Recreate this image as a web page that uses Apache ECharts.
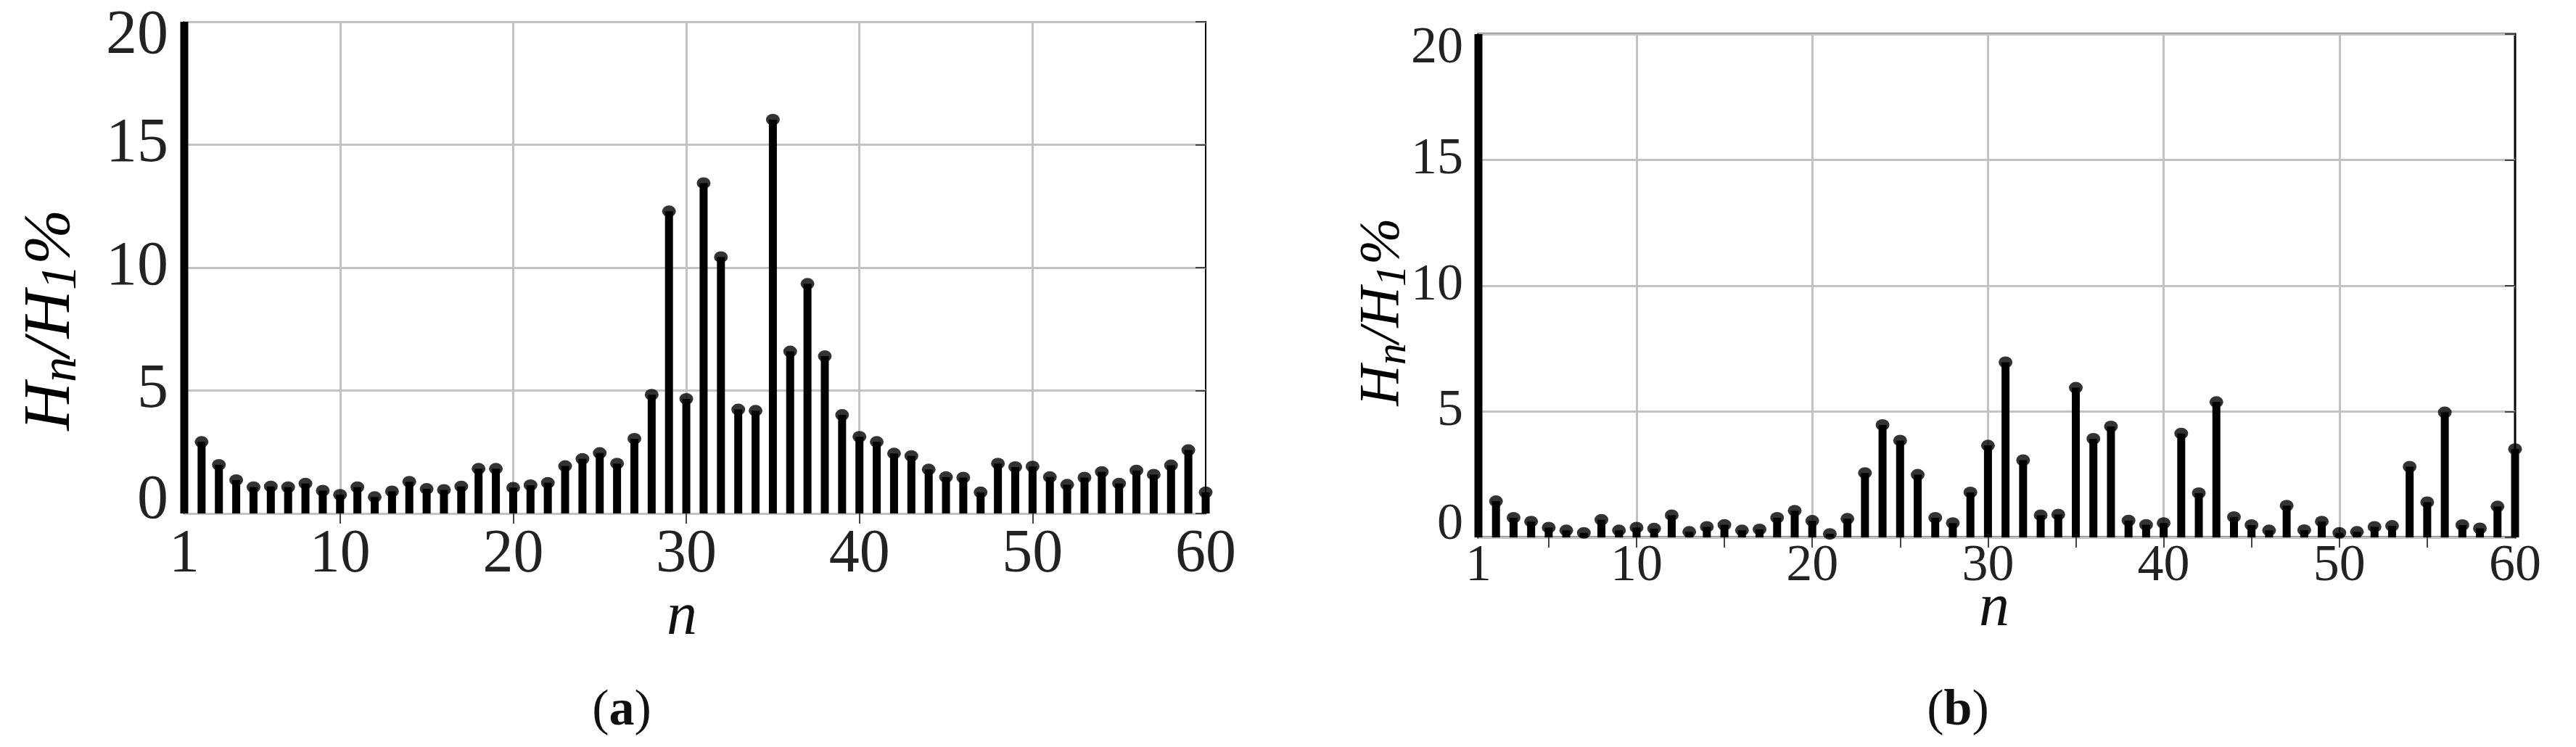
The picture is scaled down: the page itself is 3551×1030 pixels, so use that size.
<!DOCTYPE html>
<html>
<head>
<meta charset="utf-8">
<script src="https://cdn.jsdelivr.net/npm/echarts@6/dist/echarts.min.js"></script>
<style>
html,body{margin:0;padding:0;background:#fff;}
#chart{width:3551px;height:1030px;}
</style>
</head>
<body>
<div id="chart"></div>
<script>
// Harmonic order n
var harmonicOrders = [1,2,3,4,5,6,7,8,9,10,11,12,13,14,15,16,17,18,19,20,
  21,22,23,24,25,26,27,28,29,30,31,32,33,34,35,36,37,38,39,40,
  41,42,43,44,45,46,47,48,49,50,51,52,53,54,55,56,57,58,59,60];

// (a) Hn/H1 %  (n = 1 is the fundamental, 100 %)
var spectrumA = [100,2.91,1.98,1.36,1.07,1.10,1.07,1.22,0.93,0.76,
  1.07,0.67,0.90,1.29,1.00,0.96,1.10,1.82,1.82,1.05,
  1.15,1.25,1.93,2.22,2.46,2.03,3.04,4.83,12.29,4.66,
  13.44,10.43,4.23,4.18,16.02,6.59,9.34,6.40,4.01,3.12,
  2.91,2.44,2.34,1.79,1.48,1.46,0.86,2.03,1.89,1.91,
  1.48,1.17,1.46,1.69,1.22,1.75,1.58,1.96,2.58,0.86];

// (b) Hn/H1 %
var spectrumB = [100,1.44,0.78,0.63,0.39,0.28,0.18,0.70,0.28,0.39,
  0.35,0.88,0.22,0.42,0.50,0.28,0.32,0.78,1.06,0.66,
  0.14,0.74,2.56,4.47,3.85,2.49,0.78,0.57,1.79,3.65,
  6.96,3.07,0.88,0.91,5.95,3.92,4.41,0.67,0.50,0.57,
  4.13,1.76,5.38,0.81,0.49,0.28,1.26,0.29,0.63,0.18,
  0.22,0.42,0.46,2.81,1.40,4.97,0.49,0.36,1.23,3.51];

var xLabelValues = [1,10,20,30,40,50,60];
var xGridValues = [10,20,30,40,50];
var xTopTicksA = [10,20,30,40,50];
var xTicksB5 = [5,15,25,35,45,55];
var xTopTicksB = [5,10,15,20,25,30,35,40,45,50,55];
var yMin = 0, yMax = 20, yStep = 5;

var SERIF = 'Liberation Serif';

function pairs(vals, cap) {
  return harmonicOrders.map(function (n, i) {
    return [n, cap ? Math.min(vals[i], yMax) : vals[i]];
  });
}

function yFormatter(v) {
  if (v === yMax) return '{hi|' + v + '}';
  if (v === yMin) return '{lo|' + v + '}';
  return '{n|' + v + '}';
}
function yRich(size) {
  return {
    n: {fontFamily: SERIF, fontSize: size, color: '#222'},
    hi: {fontFamily: SERIF, fontSize: size, color: '#222', padding: [40, 0, 0, 0]},
    lo: {fontFamily: SERIF, fontSize: size, color: '#222', padding: [0, 0, 34, 0]}
  };
}

var gridLine = {show: true, lineStyle: {color: '#c2c2c2', width: 3}};
var tickStyle = {color: '#444', width: 2};

var chart = echarts.init(document.getElementById('chart'), null, {renderer: 'canvas'});

chart.setOption({
  animation: false,
  backgroundColor: '#fff',
  grid: [
    {left: 254, top: 30, width: 1408, height: 678, show: true, borderColor: '#000', borderWidth: 2, containLabel: false},
    {left: 2038, top: 47, width: 1429, height: 694, show: true, borderColor: '#000', borderWidth: 3, containLabel: false}
  ],
  xAxis: [
    {type: 'value', gridIndex: 0, min: 1, max: 60, position: 'bottom',
     axisLine: {show: false},
     axisTick: {show: true, inside: true, length: 14, customValues: xGridValues, lineStyle: tickStyle},
     axisLabel: {customValues: xLabelValues, fontFamily: SERIF, fontSize: 84, color: '#222', margin: 16},
     splitLine: gridLine},
    {type: 'value', gridIndex: 0, min: 1, max: 60, position: 'top',
     axisLine: {show: false},
     axisTick: {show: true, inside: true, length: 14, customValues: xTopTicksA, lineStyle: tickStyle},
     axisLabel: {show: false}, splitLine: {show: false}},
    {type: 'value', gridIndex: 1, min: 1, max: 60, position: 'bottom',
     axisLine: {show: false},
     axisTick: {show: true, inside: true, length: 14, customValues: xGridValues, lineStyle: tickStyle},
     axisLabel: {customValues: xLabelValues, fontFamily: SERIF, fontSize: 72, color: '#222', margin: 4},
     splitLine: gridLine},
    {type: 'value', gridIndex: 1, min: 1, max: 60, position: 'top',
     axisLine: {show: false},
     axisTick: {show: true, inside: true, length: 14, customValues: xTopTicksB, lineStyle: tickStyle},
     axisLabel: {show: false}, splitLine: {show: false}},
    {type: 'value', gridIndex: 1, min: 1, max: 60, position: 'bottom', offset: 0,
     axisLine: {show: false},
     axisTick: {show: true, inside: true, length: 14, customValues: xTicksB5, lineStyle: tickStyle},
     axisLabel: {show: false}, splitLine: {show: false}}
  ],
  yAxis: [
    {type: 'value', gridIndex: 0, min: yMin, max: yMax, interval: yStep, position: 'left',
     axisLine: {show: false}, axisTick: {show: false},
     axisLabel: {formatter: yFormatter, rich: yRich(86), margin: 22},
     splitLine: gridLine},
    {type: 'value', gridIndex: 0, min: yMin, max: yMax, interval: yStep, position: 'right',
     axisLine: {show: false},
     axisTick: {show: true, inside: true, length: 14, lineStyle: tickStyle},
     axisLabel: {show: false}, splitLine: {show: false}},
    {type: 'value', gridIndex: 1, min: yMin, max: yMax, interval: yStep, position: 'left',
     axisLine: {show: false}, axisTick: {show: false},
     axisLabel: {formatter: yFormatter, rich: yRich(72), margin: 21},
     splitLine: gridLine},
    {type: 'value', gridIndex: 1, min: yMin, max: yMax, interval: yStep, position: 'right',
     axisLine: {show: false},
     axisTick: {show: true, inside: true, length: 14, lineStyle: tickStyle},
     axisLabel: {show: false}, splitLine: {show: false}}
  ],
  series: [
    {type: 'bar', xAxisIndex: 0, yAxisIndex: 0, data: pairs(spectrumA, true), barWidth: 11,
     itemStyle: {color: '#000'}, clip: false, z: 3},
    {type: 'scatter', xAxisIndex: 0, yAxisIndex: 0, data: pairs(spectrumA, false), symbol: 'circle',
     symbolSize: [19, 16], itemStyle: {color: '#000'}, clip: true, z: 4},
    {type: 'bar', xAxisIndex: 2, yAxisIndex: 2, data: pairs(spectrumB, true), barWidth: 11,
     itemStyle: {color: '#000'}, clip: false, z: 3},
    {type: 'scatter', xAxisIndex: 2, yAxisIndex: 2, data: pairs(spectrumB, false), symbol: 'circle',
     symbolSize: [19, 16], itemStyle: {color: '#000'}, clip: true, z: 4}
  ],
  graphic: [
    {type: 'text', x: 71, y: 441, rotation: Math.PI / 2,
     style: {text: '{m|H}{s|n}{m|/H}{s|1}{m|%}', align: 'center', verticalAlign: 'middle', fill: '#000',
       rich: {
         m: {fontFamily: SERIF, fontStyle: 'italic', fontSize: 92, lineHeight: 100, verticalAlign: 'middle', fill: '#000'},
         s: {fontFamily: SERIF, fontStyle: 'italic', fontSize: 70, lineHeight: 45, verticalAlign: 'bottom', fill: '#000'}
       }}},
    {type: 'text', x: 1906, y: 430, rotation: Math.PI / 2,
     style: {text: '{m|H}{s|n}{m|/H}{s|1}{m|%}', align: 'center', verticalAlign: 'middle', fill: '#000',
       rich: {
         m: {fontFamily: SERIF, fontStyle: 'italic', fontSize: 78, lineHeight: 90, verticalAlign: 'middle', fill: '#000'},
         s: {fontFamily: SERIF, fontStyle: 'italic', fontSize: 60, lineHeight: 46, verticalAlign: 'bottom', fill: '#000'}
       }}},
    {type: 'text', x: 940, y: 852,
     style: {text: 'n', fontFamily: SERIF, fontStyle: 'italic', fontSize: 84, fill: '#111', align: 'center', verticalAlign: 'middle'}},
    {type: 'text', x: 2749, y: 840,
     style: {text: 'n', fontFamily: SERIF, fontStyle: 'italic', fontSize: 84, fill: '#111', align: 'center', verticalAlign: 'middle'}},
    {type: 'text', x: 857, y: 981,
     style: {text: '{p|(}{b|a}{p|)}', align: 'center', verticalAlign: 'middle',
       rich: {p: {fontFamily: SERIF, fontSize: 70, fill: '#111'}, b: {fontFamily: SERIF, fontSize: 70, fontWeight: 'bold', fill: '#111'}}}},
    {type: 'text', x: 2699, y: 981,
     style: {text: '{p|(}{b|b}{p|)}', align: 'center', verticalAlign: 'middle',
       rich: {p: {fontFamily: SERIF, fontSize: 70, fill: '#111'}, b: {fontFamily: SERIF, fontSize: 70, fontWeight: 'bold', fill: '#111'}}}}
  ]
});
</script>
</body>
</html>
